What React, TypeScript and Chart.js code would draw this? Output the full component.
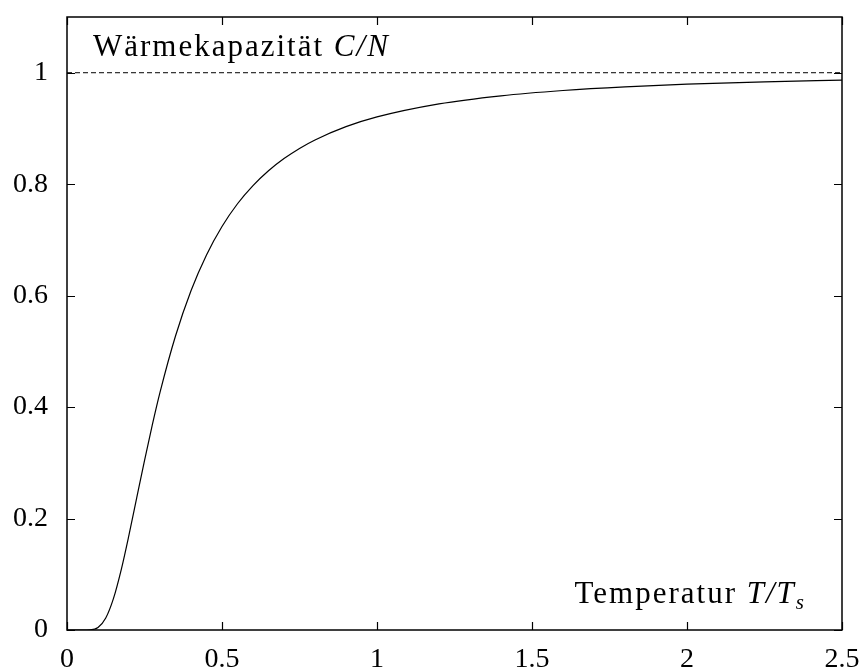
import React, { useEffect, useRef } from "react";
import { Chart, registerables } from "chart.js";

Chart.register(...registerables);

// Temperature T/Ts (x) and heat capacity C/N (y)
const temps = [0, 0.05, 0.075, 0.1, 0.125, 0.15, 0.175, 0.2, 0.225, 0.25, 0.275, 0.3, 0.35, 0.4, 0.45, 0.5, 0.55, 0.6, 0.65, 0.7, 0.75, 0.8, 0.9, 1.0, 1.2, 1.4, 1.6, 1.8, 2.0, 2.25, 2.5];
const heatCap = [0, 0, 0.0003, 0.0045, 0.0215, 0.0567, 0.1084, 0.1707, 0.2375, 0.304, 0.3676, 0.4264, 0.5276, 0.6089, 0.6731, 0.7241, 0.7649, 0.7974, 0.8241, 0.8459, 0.8642, 0.8794, 0.9032, 0.9207, 0.9441, 0.9586, 0.9681, 0.9747, 0.9794, 0.9837, 0.9868];
const limitX = [0, 2.5];
const limitY = [1, 1];
const xTicks = [0, 0.5, 1, 1.5, 2, 2.5];
const yTicks = [0, 0.2, 0.4, 0.6, 0.8, 1];
const yLabel = "Wärmekapazität ";
const yLabelMath = "C/N";
const xLabel = "Temperatur ";
const xLabelMath = "T/T";
const xLabelSub = "s";

const FONT = "'Liberation Serif', 'Times New Roman', serif";

const framePlugin = {
  id: "frame",
  afterDraw(chart: any) {
    const { ctx, chartArea: a, scales } = chart;
    ctx.save();
    ctx.strokeStyle = "#000";
    ctx.lineWidth = 1.5;
    ctx.strokeRect(a.left, a.top, a.right - a.left, a.bottom - a.top);
    ctx.lineWidth = 1.2;
    const tl = 8;
    ctx.beginPath();
    for (const v of yTicks) {
      const y = Math.round(scales.y.getPixelForValue(v)) + 0.5;
      ctx.moveTo(a.left, y);
      ctx.lineTo(a.left + tl, y);
      ctx.moveTo(a.right, y);
      ctx.lineTo(a.right - tl, y);
    }
    for (const v of xTicks) {
      const x = Math.round(scales.x.getPixelForValue(v)) + 0.5;
      ctx.moveTo(x, a.bottom);
      ctx.lineTo(x, a.bottom - tl);
      ctx.moveTo(x, a.top);
      ctx.lineTo(x, a.top + tl);
    }
    ctx.stroke();

    ctx.fillStyle = "#000";
    ctx.textBaseline = "alphabetic";
    ctx.textAlign = "left";
    (ctx as any).letterSpacing = "2px";
    // top-left label
    ctx.font = `31px ${FONT}`;
    let x0 = a.left + 26;
    const yb = a.top + 39;
    ctx.fillText(yLabel, x0, yb);
    x0 += ctx.measureText(yLabel).width;
    ctx.font = `italic 31px ${FONT}`;
    ctx.fillText(yLabelMath, x0, yb);

    // bottom-right label
    ctx.font = `31px ${FONT}`;
    const w1 = ctx.measureText(xLabel).width;
    ctx.font = `italic 31px ${FONT}`;
    const w2 = ctx.measureText(xLabelMath).width;
    ctx.font = `italic 21px ${FONT}`;
    const w3 = ctx.measureText(xLabelSub).width;
    const xb = a.bottom - 27;
    let xs = a.right - 36 - (w1 + w2 + w3);
    ctx.font = `31px ${FONT}`;
    ctx.fillText(xLabel, xs, xb);
    xs += w1;
    ctx.font = `italic 31px ${FONT}`;
    ctx.fillText(xLabelMath, xs, xb);
    xs += w2;
    ctx.font = `italic 21px ${FONT}`;
    ctx.fillText(xLabelSub, xs, xb + 6);
    ctx.restore();
  },
};

export default function App() {
  const ref = useRef<HTMLCanvasElement>(null);
  useEffect(() => {
    const canvas = ref.current;
    if (!canvas) return;
    const chart = new Chart(canvas, {
      type: "scatter",
      data: {
        datasets: [
          {
            data: temps.map((t, i) => ({ x: t, y: heatCap[i] })),
            showLine: true,
            borderColor: "#000",
            borderWidth: 1.2,
            pointRadius: 0,
            cubicInterpolationMode: "monotone",
          },
          {
            data: limitX.map((t, i) => ({ x: t, y: limitY[i] })),
            showLine: true,
            borderColor: "#000",
            borderWidth: 1,
            borderDash: [5, 3],
            pointRadius: 0,
          },
        ],
      },
      options: {
        animation: false,
        responsive: false,
        layout: { padding: 0 },
        plugins: { legend: { display: false }, tooltip: { enabled: false } },
        scales: {
          x: {
            type: "linear",
            min: 0,
            max: 2.5,
            grid: { display: false, drawTicks: false },
            border: { display: false },
            afterBuildTicks: (s: any) => {
              s.ticks = xTicks.map((v) => ({ value: v }));
            },
            afterFit: (s: any) => {
              s.height = 41;
              s.paddingLeft = 0;
              s.paddingRight = 19;
            },
            ticks: {
              color: "#000",
              padding: 13,
              maxRotation: 0,
              autoSkip: false,
              font: { family: FONT, size: 28 },
              callback: (v: any) => String(v),
            },
          },
          y: {
            type: "linear",
            min: 0,
            max: 1.1,
            grid: { display: false, drawTicks: false },
            border: { display: false },
            afterBuildTicks: (s: any) => {
              s.ticks = yTicks.map((v) => ({ value: v }));
            },
            afterFit: (s: any) => {
              s.width = 67;
              s.paddingTop = 17;
              s.paddingBottom = 0;
            },
            ticks: {
              color: "#000",
              padding: 19,
              autoSkip: false,
              font: { family: FONT, size: 28 },
              callback: (v: any) => String(v),
            },
          },
        },
      },
      plugins: [framePlugin],
    });
    return () => chart.destroy();
  }, []);
  return (
    <div style={{ position: "absolute", left: 0, top: 0, width: 861, height: 671, background: "#fff" }}>
      <canvas ref={ref} width={861} height={671} style={{ display: "block" }} />
    </div>
  );
}
